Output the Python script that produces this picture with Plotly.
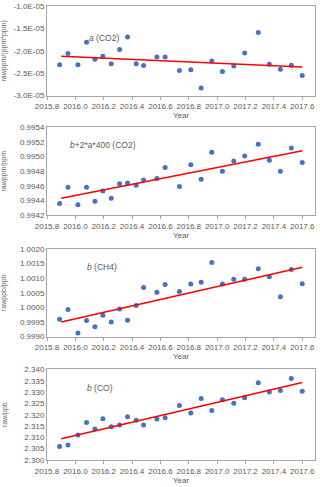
import plotly.graph_objects as go
from plotly.subplots import make_subplots

# ── Data ─────────────────────────────────────────────────────────────────
years = [2015.889, 2015.948, 2016.018, 2016.079, 2016.138, 2016.194, 2016.253,
         2016.312, 2016.368, 2016.429, 2016.481, 2016.575, 2016.633, 2016.734,
         2016.814, 2016.887, 2016.962, 2017.037, 2017.117, 2017.194, 2017.290,
         2017.368, 2017.446, 2017.523, 2017.600]

a_co2 = [-2.31e-5, -2.06e-5, -2.31e-5, -1.81e-5, -2.19e-5, -2.12e-5, -2.29e-5,
         -1.97e-5, -1.69e-5, -2.29e-5, -2.33e-5, -2.14e-5, -2.14e-5, -2.44e-5,
         -2.42e-5, -2.83e-5, -2.23e-5, -2.46e-5, -2.34e-5, -2.05e-5, -1.59e-5,
         -2.30e-5, -2.41e-5, -2.32e-5, -2.55e-5]

b2a_co2 = [0.99436, 0.99458, 0.99434, 0.99458, 0.99439, 0.99453, 0.99443,
           0.99463, 0.99464, 0.99461, 0.99468, 0.99470, 0.99485, 0.99459,
           0.99489, 0.99469, 0.99506, 0.99480, 0.99494, 0.99501, 0.99517,
           0.99495, 0.99480, 0.99512, 0.99492]

b_ch4 = [0.99959, 0.99993, 0.99912, 0.99955, 0.99934, 0.99973, 0.99950,
         0.99994, 0.99956, 1.00006, 1.00068, 1.00052, 1.00078, 1.00054,
         1.00080, 1.00086, 1.00154, 1.00080, 1.00096, 1.00096, 1.00132,
         1.00105, 1.00036, 1.00130, 1.00081]

b_co = [2.3060, 2.3066, 2.3110, 2.3165, 2.3137, 2.3182, 2.3147, 2.3154,
        2.3191, 2.3175, 2.3154, 2.3181, 2.3187, 2.3241, 2.3207, 2.3271,
        2.3219, 2.3266, 2.3251, 2.3275, 2.3341, 2.3300, 2.3307, 2.3360, 2.3304]

# trendline end points (as drawn in the reference)
trend_x = [2015.9, 2017.6]
trend_a_co2 = [-2.12e-5, -2.36e-5]
trend_b2a_co2 = [0.99443, 0.99508]
trend_b_ch4 = [0.99950, 1.00137]
trend_b_co = [2.3094, 2.3342]

x_ticks = [2015.8, 2016.0, 2016.2, 2016.4, 2016.6, 2016.8, 2017.0, 2017.2, 2017.4, 2017.6]

panels = [
    ("<i>a</i> (CO2)", a_co2, trend_a_co2, "rawppm/(ppm*ppm)",
     [-3.0e-5, -2.5e-5, -2.0e-5, -1.5e-5, -1.0e-5], "{:.1E}", -1.72e-5, 2016.08),
    ("<i>b</i>+2*<i>a</i>*400 (CO2)", b2a_co2, trend_b2a_co2, "rawppm/ppm",
     [0.9942, 0.9944, 0.9946, 0.9948, 0.9950, 0.9952, 0.9954], "{:.4f}", 0.99516, 2015.95),
    ("<i>b</i> (CH4)", b_ch4, trend_b_ch4, "rawppb/ppb",
     [0.9990, 0.9995, 1.0000, 1.0005, 1.0010, 1.0015, 1.0020], "{:.4f}", 1.00139, 2016.07),
    ("<i>b</i> (CO)", b_co, trend_b_co, "raw/ppb",
     [2.300, 2.305, 2.310, 2.315, 2.320, 2.325, 2.330, 2.335, 2.340], "{:.3f}", 2.3316, 2016.07),
]

GREY = "#595959"
FONT = "Liberation Sans"
domains = [(0.8026, 1.0), (0.5395, 0.7325), (0.2719, 0.4649), (0.0, 0.1996)]

fig = make_subplots(rows=4, cols=1)

for i, (label, vals, trend, ytitle, yticks, fmt, ann_y, ann_x) in enumerate(panels):
    r = i + 1
    fig.add_trace(go.Scatter(x=years, y=vals, mode="markers",
                             marker=dict(color="#4472C4", size=5),
                             showlegend=False), row=r, col=1)
    fig.add_trace(go.Scatter(x=trend_x, y=trend, mode="lines",
                             line=dict(color="#FF0000", width=1.6),
                             showlegend=False), row=r, col=1)
    fig.update_xaxes(range=[2015.8, 2017.69], tickvals=x_ticks,
                     ticktext=[f"{v:.1f}" for v in x_ticks],
                     showgrid=False, zeroline=False, showline=True, mirror=True,
                     linecolor="#A6A6A6", linewidth=1, ticks="outside",
                     ticklen=3, tickcolor="#A6A6A6",
                     tickfont=dict(size=8, color=GREY, family=FONT),
                     title=dict(text="Year", font=dict(size=8, color=GREY, family=FONT),
                                standoff=1),
                     domain=[0, 1], row=r, col=1)
    fig.update_yaxes(range=[yticks[0], yticks[-1]], tickvals=yticks,
                     ticktext=[fmt.format(v) for v in yticks],
                     showgrid=False, zeroline=False, showline=True, mirror=True,
                     linecolor="#A6A6A6", linewidth=1, ticks="", automargin=False,
                     tickfont=dict(size=8, color=GREY, family=FONT),
                     title=dict(text=ytitle, font=dict(size=7, color=GREY, family=FONT)),
                     domain=list(domains[i]), row=r, col=1)
    xref = "x" if r == 1 else f"x{r}"
    yref = "y" if r == 1 else f"y{r}"
    fig.add_annotation(x=ann_x, y=ann_y, xref=xref, yref=yref, text=label,
                       showarrow=False, xanchor="left", yanchor="middle",
                       font=dict(size=8.5, color=GREY, family=FONT))

fig.update_layout(width=320, height=487,
                  margin=dict(l=47, r=5, t=6, b=25),
                  plot_bgcolor="white", paper_bgcolor="white",
                  font=dict(family=FONT, color=GREY))

# page has a default body margin; remove it so the figure sits at the corner
fig.write_html("out.html", config={"displayModeBar": False},
               post_script="document.body.style.margin='0';")
